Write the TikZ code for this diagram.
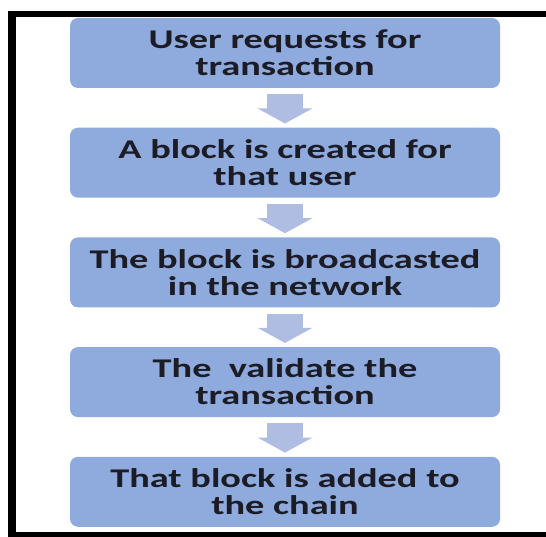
\documentclass[tikz,border=0pt]{standalone}
\usepackage{fontspec}
\newfontfamily\flowfont{Carlito}[FakeStretch=1.42]
\usetikzlibrary{arrows.meta,
                positioning}
\definecolor{boxblue}{HTML}{8FAADC}
\definecolor{arrowblue}{HTML}{AFBDE2}
\definecolor{textdark}{HTML}{1C1C26}

\begin{document}
\begin{tikzpicture}%
        [x = 1pt, y = 1pt,
         stage/.style = {rectangle, rounded corners = 8pt, fill = boxblue,
                         minimum width = 430pt, minimum height = 70pt,
                         inner sep = 0pt, align = center, text = textdark,
                         font = \flowfont\bfseries\fontsize{27}{27}\selectfont},
         down/.style = {arrowblue, line width = 36pt,
                        -{Triangle[length = 15pt, width = 54pt]},
                        shorten < = 6pt, shorten > = 4pt},
         node distance = 39.3pt]
        \useasboundingbox (0,0) rectangle (546,-537);
        \fill (8,-11) rectangle (546,-17);
        \fill (8,-11) rectangle (16,-537);
        \fill (8,-532) rectangle (546,-537);

        \node [stage] (user) at (285,-53) {User requests for\\transaction};
        \node [stage, below = of user] (create) {A block is created for\\that user};
        \node [stage, below = of create] (broadcast) {The block is broadcasted\\in the network};
        \node [stage, below = of broadcast] (validate) {The\ \ validate the\\transaction};
        \node [stage, below = of validate] (chain) {That block is added to\\the chain};

        \draw [down] (user) to (create);
        \draw [down] (create) to (broadcast);
        \draw [down] (broadcast) to (validate);
        \draw [down] (validate) to (chain);
    \end{tikzpicture}
\end{document}
